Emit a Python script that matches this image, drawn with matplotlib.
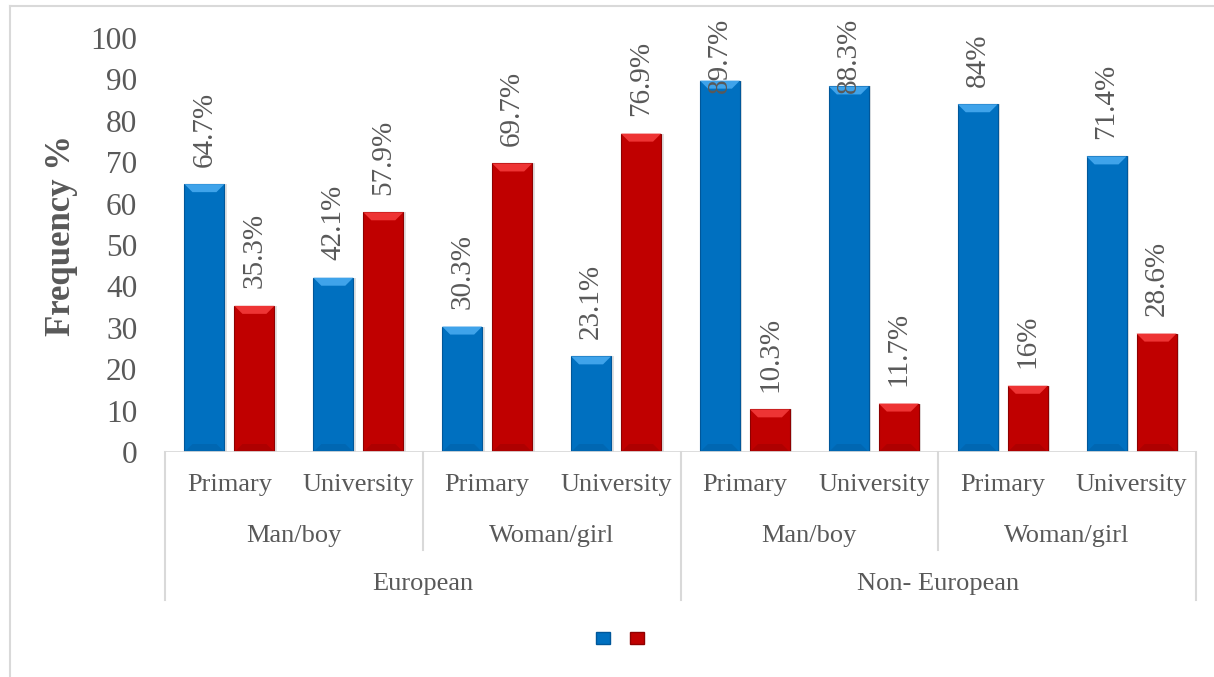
import matplotlib
matplotlib.use("Agg")
import matplotlib.pyplot as plt
from matplotlib.patches import Polygon, Rectangle, Patch
from matplotlib.lines import Line2D
import matplotlib.transforms as mtransforms
import numpy as np

# ---------------- data ----------------
regions = ["European", "Non- European"]
genders = ["Man/boy", "Woman/girl"]
education = ["Primary", "University"]
blue_values = [64.7, 42.1, 30.3, 23.1, 89.7, 88.3, 84.0, 71.4]
red_values = [35.3, 57.9, 69.7, 76.9, 10.3, 11.7, 16.0, 28.6]
blue_labels = ["64.7%", "42.1%", "30.3%", "23.1%", "89.7%", "88.3%", "84%", "71.4%"]
red_labels = ["35.3%", "57.9%", "69.7%", "76.9%", "10.3%", "11.7%", "16%", "28.6%"]
yticks = [0, 10, 20, 30, 40, 50, 60, 70, 80, 90, 100]
ylabel = "Frequency %"

# ---------------- style ----------------
FONT = "Liberation Serif"
TXT = "#595959"
GRID = "#D9D9D9"
BLUE, BLUE_TOP, BLUE_DARK = "#0070C0", "#3FA3EA", "#00579A"
RED, RED_TOP, RED_DARK = "#C00000", "#EE3434", "#8E0000"
LABEL_FS = 21

W, H, DPI = 1214, 677, 100
fig = plt.figure(figsize=(W / DPI, H / DPI), dpi=DPI)
fig.patch.set_facecolor("white")

# chart-area border (only left and top visible)
fig.add_artist(Line2D([10 / W, 10 / W], [1 - 6 / H, 0], transform=fig.transFigure,
                      color=GRID, lw=1.5))
fig.add_artist(Line2D([10 / W, 1], [1 - 6 / H, 1 - 6 / H], transform=fig.transFigure,
                      color=GRID, lw=1.5))

ax = fig.add_axes([165 / W, 1 - 452 / H, (1196 - 165) / W, (452 - 38) / H])
n = len(blue_values)
x = np.arange(n)
bw = 0.31
gap = 0.078
ax.set_xlim(-0.5, n - 0.5)
ax.set_ylim(0, 100)

px_per_unit_y = (452 - 38) / 100.0
px_per_unit_x = (1196 - 165) / n


def bevel_bar(xc, h, face, top, dark):
    x0, x1 = xc - bw / 2, xc + bw / 2
    # shadow
    ax.add_patch(Rectangle((x0 + 2.5 / px_per_unit_x, 0), bw, h, facecolor="#000000",
                           alpha=0.12, lw=0, zorder=1))
    ax.bar(xc, h, width=bw, color=face, edgecolor=dark, linewidth=0.8, zorder=2)
    d = 8 / px_per_unit_x
    bh = 8 / px_per_unit_y
    bh = min(bh, h / 2)
    ax.add_patch(Polygon([(x0, h), (x1, h), (x1 - d, h - bh), (x0 + d, h - bh)],
                         closed=True, facecolor=top, edgecolor="none", zorder=3))
    ax.add_patch(Polygon([(x0, 0), (x1, 0), (x1 - d, bh), (x0 + d, bh)],
                         closed=True, facecolor=dark, alpha=0.35, edgecolor="none", zorder=3))


xb = x - (bw + gap) / 2
xr = x + (bw + gap) / 2
for i in range(n):
    bevel_bar(xb[i], blue_values[i], BLUE, BLUE_TOP, BLUE_DARK)
    bevel_bar(xr[i], red_values[i], RED, RED_TOP, RED_DARK)

# data labels
labels = []
for xs, vals, labs in ((xb, blue_values, blue_labels), (xr, red_values, red_labels)):
    for xi, v, lab in zip(xs, vals, labs):
        t = ax.annotate(lab, xy=(xi, v), xytext=(0, 12.5), textcoords="offset points",
                        rotation=90, ha="center", va="bottom", fontsize=LABEL_FS,
                        family=FONT, color=TXT, zorder=5, annotation_clip=False)
        labels.append((t, xi))

# axes styling
for s in ax.spines.values():
    s.set_visible(False)
ax.set_yticks(yticks)
ax.set_yticklabels([str(t) for t in yticks], fontsize=22.5, family=FONT, color=TXT)
ax.tick_params(axis="y", length=0, pad=20)
ax.set_xticks([])
ax.set_ylabel(ylabel, fontsize=25, family=FONT, color=TXT, fontweight="bold")
ax.yaxis.set_label_coords(-0.084, 0.524)

# baseline
ax.axhline(0, color=GRID, lw=2, zorder=4)

trans = mtransforms.blended_transform_factory(ax.transData, ax.transAxes)
# level 1 labels
for i in range(n):
    ax.text(x[i], -0.080, education[i % 2], transform=trans, ha="center", va="center",
            fontsize=19, family=FONT, color=TXT)
# level 2 labels
for j in range(4):
    ax.text(2 * j + 0.5, -0.202, genders[j % 2], transform=trans, ha="center",
            va="center", fontsize=19, family=FONT, color=TXT)
# level 3 labels
for k in range(2):
    ax.text(4 * k + 1.5, -0.319, regions[k], transform=trans, ha="center", va="center",
            fontsize=19, family=FONT, color=TXT)
# separators
for b in np.arange(-0.5, n, 2):
    long_line = (b + 0.5) % 4 == 0
    y1 = -0.357 if long_line else -0.237
    ax.add_line(Line2D([b, b], [0, y1], transform=trans, color=GRID, lw=1.5,
                       clip_on=False))

# legend (no labels)
handles = [Patch(facecolor=BLUE, edgecolor=BLUE_DARK), Patch(facecolor=RED, edgecolor=RED_DARK)]
fig.legend(handles, ["", ""], loc="center", bbox_to_anchor=(620 / W, 38 / H), ncol=2,
           frameon=False, fontsize=10, handlelength=1.0, handleheight=1.0,
           handletextpad=0.0, columnspacing=1.5)

# keep labels inside the chart area
fig.canvas.draw()
r = fig.canvas.get_renderer()
top_limit = H - 18
for t, xi in labels:
    bb = t.get_window_extent(r)
    if bb.y1 > top_limit:
        t.remove()
        ax.annotate(t.get_text(), xy=(xi, 1), xycoords=("data", "axes fraction"),
                    xytext=(0, 20 * 72 / DPI), textcoords="offset points", rotation=90,
                    ha="center", va="top", fontsize=LABEL_FS, family=FONT, color=TXT,
                    zorder=5, annotation_clip=False)

fig.savefig("out.png", dpi=DPI)
